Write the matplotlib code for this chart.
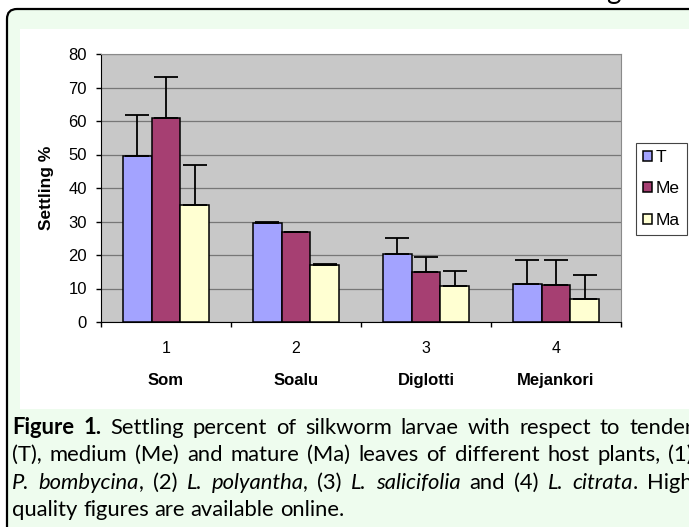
import matplotlib
matplotlib.use("Agg")
import matplotlib.pyplot as plt
import numpy as np
from matplotlib.patches import FancyBboxPatch, Rectangle
from matplotlib.transforms import IdentityTransform, blended_transform_factory

groups = ["1", "2", "3", "4"]
plants = ["Som", "Soalu", "Diglotti", "Mejankori"]
series = ["T", "Me", "Ma"]
tender = [49.6, 29.7, 20.4, 11.4]
tender_err = [12.2, 0.2, 4.7, 7.2]
medium = [60.9, 27.0, 14.9, 11.0]
medium_err = [12.3, 0.0, 4.6, 7.6]
mature = [34.8, 17.1, 10.6, 7.0]
mature_err = [12.1, 0.2, 4.7, 7.0]
colors = ["#a3a3ff", "#a63f72", "#ffffd2"]

plt.rcParams["font.family"] = ["Liberation Sans", "DejaVu Sans"]

W, H = 689, 527
fig = plt.figure(figsize=(W / 100, H / 100), dpi=100)
px = IdentityTransform()

# page decoration: rounded green frame and white chart area
frame = FancyBboxPatch((7, -20), 730, 538, boxstyle="round,pad=0,rounding_size=10",
                       transform=px, facecolor="#eefcee", edgecolor="black",
                       linewidth=1.6, zorder=-3)
fig.add_artist(frame)
fig.add_artist(Rectangle((20, H - 409), 700, 380, transform=px,
                         facecolor="white", edgecolor="none", zorder=-2))
# bit of the heading cut off at the top
fig.text(606, H + 1, "g", transform=px, fontsize=20, family="Lato", va="baseline")

ax = fig.add_axes([101 / W, (H - 322) / H, 520 / W, 268 / H])
ax.set_facecolor("#c8c8c8")

x = np.arange(1, 5)
w = 0.223
for off, vals, errs, c, lab in zip([-w, 0, w], [tender, medium, mature],
                                   [tender_err, medium_err, mature_err], colors, series):
    ax.bar(x + off, vals, w, color=c, edgecolor="black", linewidth=1.1, label=lab, zorder=3)
    ax.errorbar(x + off, vals, yerr=[np.zeros(len(errs)), errs], fmt="none",
                ecolor="black", elinewidth=1.3, capsize=8.5, capthick=1.3, zorder=4)

ax.set_ylim(0, 80)
ax.set_yticks(np.arange(0, 81, 10))
ax.yaxis.grid(True, color="#777777", linewidth=0.9, zorder=0)
ax.set_axisbelow(True)
ax.set_xlim(0.5, 4.5)
ax.set_xticks(np.arange(0.5, 5), labels=[])
ax.set_xticks(x, labels=groups, minor=True)
ax.tick_params(axis="x", which="major", direction="out", length=3.6, width=1)
ax.tick_params(axis="x", which="minor", length=0, pad=14, labelsize=11.5)
ax.tick_params(axis="y", direction="out", length=3.6, width=1, pad=6.5, labelsize=12)
for side in ["top", "right"]:
    ax.spines[side].set_color("#8a8a8a")
for side in ["left", "bottom"]:
    ax.spines[side].set_color("black")

trans = blended_transform_factory(ax.transData, ax.transAxes)
for xi, name in zip(x, plants):
    ax.text(xi, -0.22, name, transform=trans, ha="center", va="center",
            fontweight="bold", fontsize=12)

fig.text(47 / W, 1 - 188 / H, "Settling %", rotation=90, ha="center", va="center",
         fontweight="bold", fontsize=12.5)

leg = fig.legend(loc="upper left", bbox_to_anchor=(636 / W, 1 - 143 / H), fancybox=False,
                 edgecolor="#444444", framealpha=1, borderaxespad=0, borderpad=0.4,
                 labelspacing=0.95, handlelength=0.5, handleheight=0.5,
                 handletextpad=0.25, fontsize=12.5)
leg.get_frame().set_linewidth(0.8)

# caption, laid out word by word (lines 1-3 justified)
cap_size = 15.8
lines = [
    [[("Figure", "b")], [("1.", "b")], [("Settling", "r")], [("percent", "r")], [("of", "r")],
     [("silkworm", "r")], [("larvae", "r")], [("with", "r")], [("respect", "r")],
     [("to", "r")], [("tender", "r")]],
    [[(s, "r")] for s in "(T), medium (Me) and mature (Ma) leaves of different host plants, (1)".split()],
    [[("P.", "i")], [("bombycina", "i"), (",", "r")], [("(2)", "r")], [("L.", "i")],
     [("polyantha", "i"), (",", "r")], [("(3)", "r")], [("L.", "i")], [("salicifolia", "i")],
     [("and", "r")], [("(4)", "r")], [("L.", "i")], [("citrata", "i"), (".", "r")],
     [("High", "r")]],
    [[(s, "r")] for s in "quality figures are available online.".split()],
]
baselines = [434, 461, 489, 516]
justify = [True, True, True, False]
left, right = 12, 693

renderer = fig.canvas.get_renderer()


def make_word(word, y):
    texts = []
    for s, st in word:
        t = fig.text(0, H - y, s, transform=px, fontsize=cap_size, family="Lato",
                     fontweight="bold" if st == "b" else "normal",
                     fontstyle="italic" if st == "i" else "normal", va="baseline")
        texts.append(t)
    widths = [t.get_window_extent(renderer).width for t in texts]
    return texts, widths


probe = fig.text(0, 0, "a a", fontsize=cap_size, family="Lato")
probe2 = fig.text(0, 0, "aa", fontsize=cap_size, family="Lato")
space = probe.get_window_extent(renderer).width - probe2.get_window_extent(renderer).width
probe.remove()
probe2.remove()

for words, y, just in zip(lines, baselines, justify):
    made = [make_word(wd, y) for wd in words]
    total = sum(sum(ws) for _, ws in made)
    gap = (right - left - total) / (len(made) - 1) if just else space
    xpos = left
    for texts, ws in made:
        for t, wdt in zip(texts, ws):
            t.set_x(xpos)
            xpos += wdt
        xpos += gap

fig.savefig("out.png", dpi=100)
